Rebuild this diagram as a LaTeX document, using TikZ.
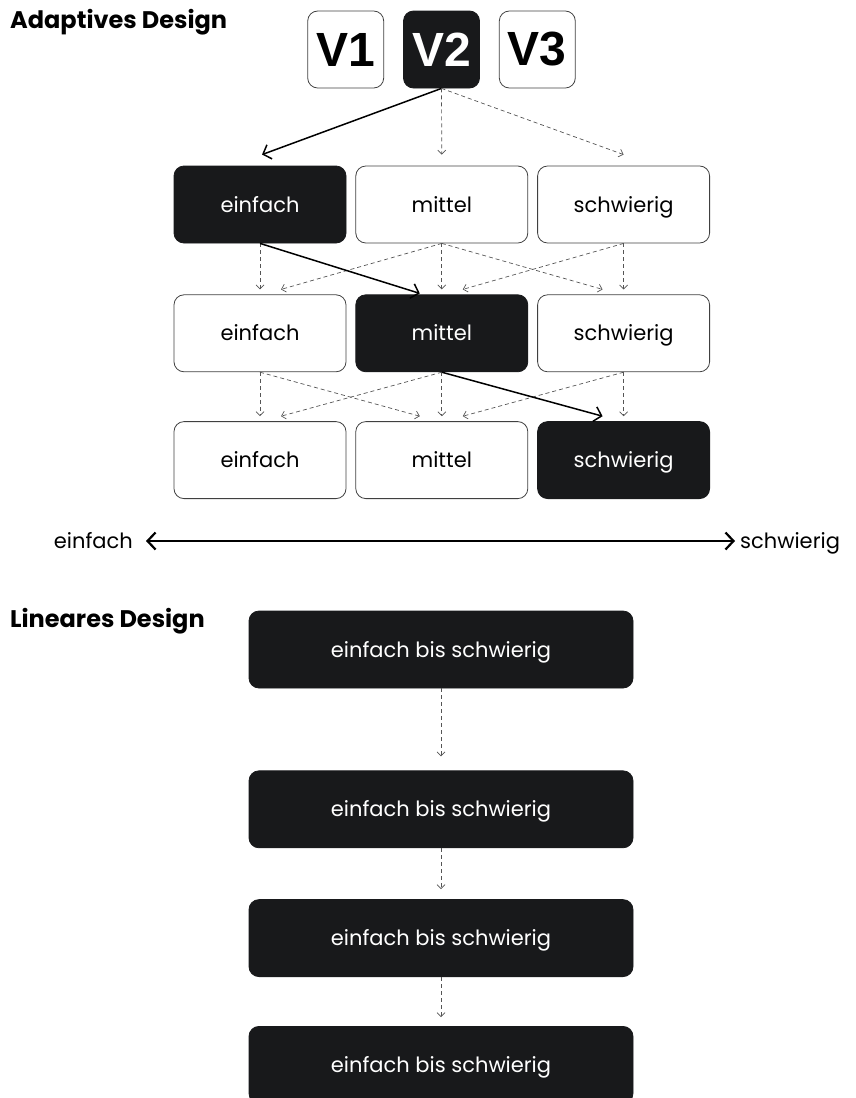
\documentclass[tikz,border=0pt]{standalone}
\usepackage{fontspec}
\setmainfont{Poppins}
\newfontfamily\versionfont{Liberation Sans}
\usetikzlibrary{arrows.meta, positioning}
\definecolor{boxblack}{HTML}{18191B}
\definecolor{dashgray}{HTML}{555555}

\begin{document}
\begin{tikzpicture}[
    x=1pt, y=-1pt,
    node distance=9pt,
    level/.style={draw=black!75, line width=0.8pt, rounded corners=10pt, minimum width=172pt, minimum height=77pt, inner sep=0pt, text height=15pt, text depth=0pt, font=\fontsize{21}{24}\selectfont},
    chosen/.style={level, fill=boxblack, draw=boxblack, text=white},
    version/.style={draw=black!75, line width=0.8pt, rounded corners=10pt, minimum width=76pt, minimum height=77pt, inner sep=0pt, font=\versionfont\bfseries\fontsize{48}{48}\selectfont},
    linear/.style={chosen, minimum width=384pt},
    heading/.style={anchor=west, inner sep=0pt, font=\bfseries\fontsize{24}{28}\selectfont},
    scale label/.style={inner sep=0pt, text height=15pt, text depth=0pt, font=\fontsize{21}{24}\selectfont},
    route/.style={-{Straight Barb[length=7pt,width=15pt]}, line width=1.5pt},
    alt/.style={-{Straight Barb[length=4pt,width=8pt]}, dash pattern=on 4pt off 3pt, draw=dashgray, line width=0.7pt},
    axis/.style={{Straight Barb[length=8pt,width=17pt]}-{Straight Barb[length=8pt,width=17pt]}, line width=2.2pt}
]
\useasboundingbox (0,0) rectangle (855,1098);

% Adaptive design
\node (adaptive) [heading] at (10,22) {Adaptives Design};

\node (v2) [version, fill=boxblack, draw=boxblack, text=white] at (441.5,49.5) {V2};
\node (v1) [version, left=19pt of v2] {V1};
\node (v3) [version, right=19pt of v2] {V3};

% Levels (row 1 to row 3)
\node (e1) [chosen] at (260,204.5) {einfach};
\node (m1) [level, right=of e1] {mittel};
\node (s1) [level, right=of m1] {schwierig};

\node (e2) [level, below=51pt of e1] {einfach};
\node (m2) [chosen, right=of e2] {mittel};
\node (s2) [level, right=of m2] {schwierig};

\node (e3) [level, below=49pt of e2] {einfach};
\node (m3) [level, right=of e3] {mittel};
\node (s3) [chosen, right=of m3] {schwierig};

% Arrows from version
\draw [route] (v2.south) -- ([xshift=2pt,yshift=11pt]e1.north);
\draw [alt] (v2.south) -- ([yshift=11pt]m1.north);
\draw [alt] (v2.south) -- ([yshift=11pt]s1.north);

% Arrows row 1 -> row 2
\draw [alt] (e1.south) -- ([yshift=5pt]e2.north);
\draw [alt] (m1.south) -- ([xshift=21pt,yshift=5pt]e2.north);
\draw [alt] (m1.south) -- ([yshift=5pt]m2.north);
\draw [alt] (m1.south) -- ([xshift=-21pt,yshift=5pt]s2.north);
\draw [alt] (s1.south) -- ([xshift=21pt,yshift=5pt]m2.north);
\draw [alt] (s1.south) -- ([yshift=5pt]s2.north);
\draw [route] (e1.south) -- ([xshift=-22pt,yshift=1pt]m2.north);

% Arrows row 2 -> row 3
\draw [alt] (e2.south) -- ([yshift=5pt]e3.north);
\draw [alt] (e2.south) -- ([xshift=-22pt,yshift=5pt]m3.north);
\draw [alt] (m2.south) -- ([xshift=21pt,yshift=5pt]e3.north);
\draw [alt] (m2.south) -- ([yshift=5pt]m3.north);
\draw [alt] (s2.south) -- ([xshift=21pt,yshift=5pt]m3.north);
\draw [alt] (s2.south) -- ([yshift=5pt]s3.north);
\draw [route] (m2.south) -- ([xshift=-21pt,yshift=5pt]s3.north);

% Difficulty scale
\node (easy) [scale label, anchor=east] at (133,541) {einfach};
\node (hard) [scale label, anchor=west] at (740,541) {schwierig};
\draw [axis, shorten <=13pt, shorten >=5pt] (easy.east) -- (hard.west);

% Linear design
\node (linear) [heading] at (10,621) {Lineares Design};

\node (l1) [linear] at (441,649.5) {einfach bis schwierig};
\node (l2) [linear, below=82pt of l1] {einfach bis schwierig};
\node (l3) [linear, below=51pt of l2] {einfach bis schwierig};
\node (l4) [linear, below=49pt of l3] {einfach bis schwierig};

\draw [alt] (l1.south) -- ([yshift=14pt]l2.north);
\draw [alt] (l2.south) -- ([yshift=10pt]l3.north);
\draw [alt] (l3.south) -- ([yshift=9pt]l4.north);

\end{tikzpicture}
\end{document}
